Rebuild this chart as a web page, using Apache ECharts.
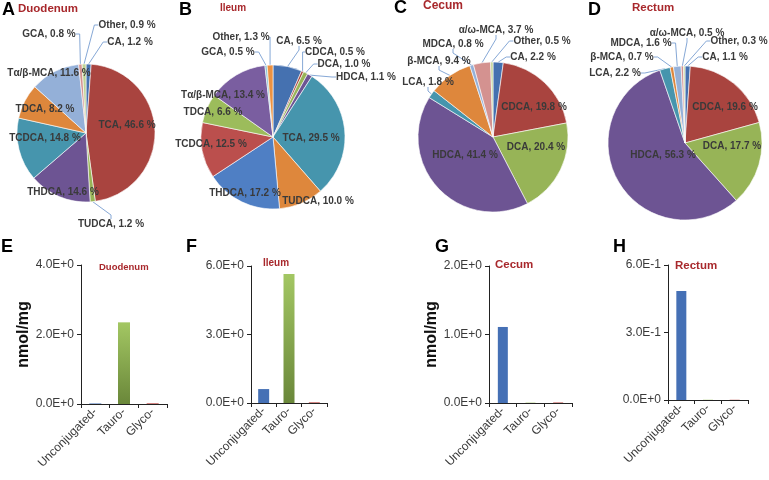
<!DOCTYPE html>
<html><head><meta charset="utf-8">
<script src="https://cdn.jsdelivr.net/npm/echarts@6/dist/echarts.min.js"></script>
<style>html,body{margin:0;padding:0;background:#fff}#c{width:769px;height:480px}</style>
</head><body><div id="c"></div>
<script>
// ---------- data ----------
const duoNames = ['CA','TCA','TUDCA','THDCA','TCDCA','TDCA','Tα/β-MCA','GCA','Other'];
const duoPct   = [1.2, 46.6, 1.2, 14.6, 14.8, 8.2, 11.6, 0.8, 0.9];
const ileNames = ['CA','CDCA','DCA','HDCA','TCA','TUDCA','THDCA','TCDCA','TDCA','Tα/β-MCA','GCA','Other'];
const ilePct   = [6.5, 0.5, 1.0, 1.1, 29.5, 10.0, 17.2, 12.5, 6.6, 13.4, 0.5, 1.3];
const cecNames = ['CA','CDCA','DCA','HDCA','LCA','β-MCA','MDCA','α/ω-MCA','Other'];
const cecPct   = [2.2, 19.8, 20.4, 41.4, 1.8, 9.4, 0.8, 3.7, 0.5];
const recNames = ['CA','CDCA','DCA','HDCA','LCA','β-MCA','MDCA','α/ω-MCA','Other'];
const recPct   = [1.1, 19.6, 17.7, 56.3, 2.2, 0.7, 1.6, 0.5, 0.3];

const barCats = ['Unconjugated-','Tauro-','Glyco-'];
const duoBar = [0.015, 2.35, 0.02];
const ileBar = [0.61, 5.65, 0.03];
const cecBar = [1.11, 0.005, 0.008];
const recBar = [0.484, 0.001, 0.001];

// ---------- styles / layout ----------
const pal9 = ['#4571b0','#a9443f','#97b457','#6d5493','#4695ad','#de873c','#94b0d8','#d49290','#bfd396'];
const pal12 = ['#4571b0','#a9443f','#97b457','#6d5493','#4695ad','#de873c','#4f7fc4','#bb4f4d','#9cbc5b','#7a5ea0','#8cc6d6','#ec9242'];
const labelColor = '#3a3a3a';
const darkRed = '#a8282c';

// pie geometry
const pieGeo = [
  {cx: 86, cy: 133, r: 69},
  {cx: 273, cy: 137, r: 72},
  {cx: 493, cy: 137, r: 75},
  {cx: 685, cy: 143, r: 77}
];
// label spots relative to pie centre [dx, dy, outside]
const spots = [
  [[44,-91,1],[41,-8,0],[25,91,1],[-23,59,0],[-41,5,0],[-41,-24,0],[-37,-60,0],[-37,-99,1],[41,-108,1]],
  [[26,-96,1],[62,-85,1],[71,-73,1],[93,-60,1],[38,1,0],[45,64,0],[-28,56,0],[-62,7,0],[-60,-25,0],[-50,-42,0],[-45,-85,1],[-32,-100,1]],
  [[40,-80,1],[41,-30,0],[43,10,0],[-28,18,0],[-65,-55,1],[-54,-76,1],[-40,-93,1],[3,-107,1],[49,-96,1]],
  [[40,-86,1],[40,-36,0],[47,3,0],[-22,12,0],[-70,-70,1],[-63,-86,1],[-44,-100,1],[2,-110,1],[54,-102,1]]
];

function pieSeries(i, names, vals, colors) {
  const g = pieGeo[i];
  return {
    type: 'pie',
    center: [g.cx, g.cy],
    radius: g.r,
    startAngle: 90,
    clockwise: true,
    avoidLabelOverlap: false,
    silent: true,
    itemStyle: {borderColor: '#fff', borderWidth: 0.6},
    label: {
      fontSize: 10, fontWeight: 'bold', color: labelColor,
      fontFamily: 'Liberation Sans, Arial, sans-serif',
      formatter: p => p.name + ', ' + p.value.toFixed(1) + ' %'
    },
    labelLine: {show: true, length: 8, length2: 4, lineStyle: {color: '#86a8d6', width: 1}},
    labelLayout: function (p) {
      const s = spots[i][p.dataIndex];
      return {x: g.cx + s[0], y: g.cy + s[1], align: 'center', verticalAlign: 'middle'};
    },
    data: names.map((n, k) => ({
      name: n, value: vals[k],
      itemStyle: {color: colors[k]},
      label: {position: spots[i][k][2] ? 'outside' : 'inside'},
      labelLine: {show: !!spots[i][k][2]}
    }))
  };
}

const barColors = [
  '#4570b5',
  new echarts.graphic.LinearGradient(0, 0, 0, 1, [{offset: 0, color: '#a3c763'}, {offset: 1, color: '#6a873a'}]),
  '#c0504d'
];

const grids = [
  {left: 81, top: 265, width: 86, height: 139},
  {left: 251, top: 266, width: 76, height: 137},
  {left: 489, top: 266, width: 83, height: 137},
  {left: 668, top: 265, width: 80, height: 135}
];
const yMax = [4, 6, 2, 0.6];
const yInt = [2, 3, 1, 0.3];
const yName = ['nmol/mg', '', 'nmol/mg', ''];
const barData = [duoBar, ileBar, cecBar, recBar];
const barW = [12, 11, 10, 10];

const axisColor = '#222';
const fam = 'Liberation Sans, Arial, sans-serif';

function expFmt(v) {
  return Number(v).toExponential(1).toUpperCase();
}

const xAxes = grids.map((g, i) => ({
  type: 'category', gridIndex: i, data: barCats,
  axisLine: {lineStyle: {color: axisColor, width: 1}},
  axisTick: {show: true, length: 4, lineStyle: {color: axisColor}},
  axisLabel: {rotate: 45, interval: 0, fontSize: 12, color: labelColor, margin: 6, fontFamily: fam}
}));
const yAxes = grids.map((g, i) => ({
  type: 'value', gridIndex: i, min: 0, max: yMax[i], interval: yInt[i],
  splitLine: {show: false},
  axisLine: {show: true, lineStyle: {color: axisColor, width: 1}},
  axisTick: {show: true, length: 4, lineStyle: {color: axisColor}},
  axisLabel: {fontSize: 12, color: labelColor, margin: 7, fontFamily: fam, formatter: expFmt},
  name: yName[i], nameLocation: 'middle', nameRotate: 90, nameGap: 48,
  nameTextStyle: {fontSize: 16, fontWeight: 'bold', color: '#111', fontFamily: fam}
}));
const barSeries = barData.map((d, i) => ({
  type: 'bar', xAxisIndex: i, yAxisIndex: i, barWidth: barW[i], silent: true,
  data: d.map((v, k) => ({value: v, itemStyle: {color: barColors[k]}}))
}));

function t(text, left, top, size, color) {
  return {text, left, top, padding: 0,
    textStyle: {fontSize: size, fontWeight: 'bold', color, fontFamily: fam}};
}

const option = {
  animation: false,
  backgroundColor: '#fff',
  title: [
    t('A', 2, 1, 18, '#000'), t('Duodenum', 18, 3, 11.5, darkRed),
    t('B', 179, 1, 18, '#000'), t('Ileum', 220, 3, 10, darkRed),
    t('C', 394, -1, 18, '#000'), t('Cecum', 423, 0, 12, darkRed),
    t('D', 588, 1, 18, '#000'), t('Rectum', 632, 2, 11.5, darkRed),
    t('E', 1, 238, 18, '#000'), t('F', 186, 238, 18, '#000'),
    t('G', 435, 238, 18, '#000'), t('H', 613, 238, 18, '#000'),
    t('Duodenum', 99, 262, 9.5, darkRed), t('Ileum', 263, 258, 10, darkRed),
    t('Cecum', 495, 259, 11.5, darkRed), t('Rectum', 675, 260, 11.5, darkRed)
  ],
  grid: grids,
  xAxis: xAxes,
  yAxis: yAxes,
  series: [
    pieSeries(0, duoNames, duoPct, pal9),
    pieSeries(1, ileNames, ilePct, pal12),
    pieSeries(2, cecNames, cecPct, pal9),
    pieSeries(3, recNames, recPct, pal9)
  ].concat(barSeries)
};

const chart = echarts.init(document.getElementById('c'), null, {renderer: 'canvas'});
chart.setOption(option);
</script>
</body></html>
